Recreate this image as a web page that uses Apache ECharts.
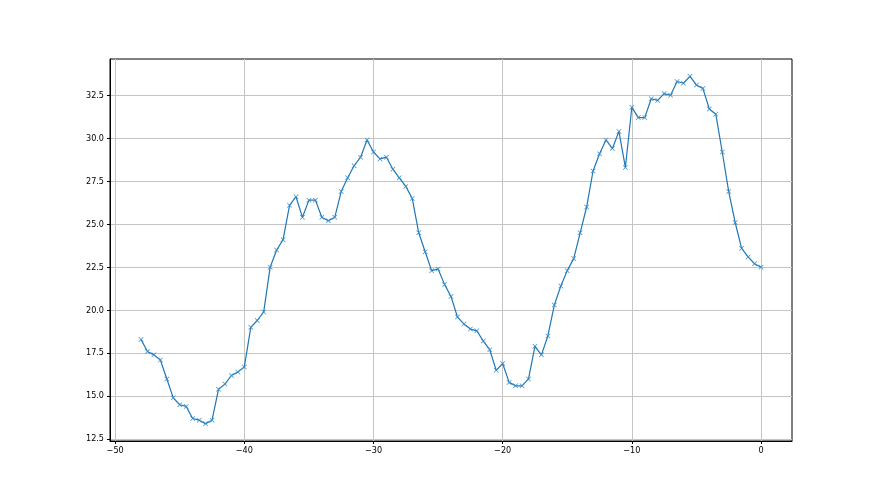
<!DOCTYPE html>
<html>
<head>
<meta charset="utf-8">
<script src="https://cdn.jsdelivr.net/npm/echarts@6/dist/echarts.min.js"></script>
<style>html,body{margin:0;padding:0;background:#fff;}#c{width:880px;height:495px;}</style>
</head>
<body>
<div id="c"></div>
<script>
const xValues = [-48,-47.5,-47,-46.5,-46,-45.5,-45,-44.5,-44,-43.5,-43,-42.5,-42,-41.5,-41,-40.5,-40,-39.5,-39,-38.5,-38,-37.5,-37,-36.5,-36,-35.5,-35,-34.5,-34,-33.5,-33,-32.5,-32,-31.5,-31,-30.5,-30,-29.5,-29,-28.5,-28,-27.5,-27,-26.5,-26,-25.5,-25,-24.5,-24,-23.5,-23,-22.5,-22,-21.5,-21,-20.5,-20,-19.5,-19,-18.5,-18,-17.5,-17,-16.5,-16,-15.5,-15,-14.5,-14,-13.5,-13,-12.5,-12,-11.5,-11,-10.5,-10,-9.5,-9,-8.5,-8,-7.5,-7,-6.5,-6,-5.5,-5,-4.5,-4,-3.5,-3,-2.5,-2,-1.5,-1,-0.5,0];
const yValues = [18.3,17.6,17.4,17.1,16.0,14.9,14.5,14.4,13.7,13.6,13.4,13.6,15.4,15.7,16.2,16.4,16.7,19.0,19.4,19.9,22.5,23.5,24.1,26.1,26.6,25.4,26.4,26.4,25.4,25.2,25.4,26.9,27.7,28.4,28.9,29.9,29.2,28.8,28.9,28.2,27.7,27.2,26.5,24.5,23.4,22.3,22.4,21.5,20.8,19.6,19.2,18.9,18.8,18.2,17.7,16.5,16.9,15.8,15.6,15.6,16.0,17.9,17.4,18.5,20.3,21.4,22.3,23.0,24.5,26.0,28.1,29.1,29.9,29.4,30.4,28.3,31.8,31.2,31.2,32.3,32.2,32.6,32.5,33.3,33.2,33.6,33.1,32.9,31.7,31.4,29.2,26.9,25.1,23.6,23.1,22.7,22.5];
const xTicks = [-50,-40,-30,-20,-10,0];
const yTicks = [12.5,15,17.5,20,22.5,25,27.5,30,32.5];

const chart = echarts.init(document.getElementById('c'), null, {renderer:'canvas'});
const labelFont = "'DejaVu Sans Condensed','Liberation Sans Narrow','DejaVu Sans',sans-serif";
const data = xValues.map((x,i)=>[x,yValues[i]]);
chart.setOption({
  animation:false,
  backgroundColor:'#fff',
  grid:{left:110,right:88,top:59,bottom:54,show:true,borderColor:'#000',borderWidth:1,backgroundColor:'transparent'},
  xAxis:{
    type:'value',min:-50.4,max:2.4,
    axisLine:{show:true,onZero:false,lineStyle:{color:'#000',width:1}},
    axisTick:{show:true,inside:false,length:3,customValues:xTicks,lineStyle:{color:'#000'}},
    axisLabel:{customValues:xTicks,margin:5,color:'#000',fontSize:9,fontFamily:labelFont,
      formatter:v=>v<0?'\u2212'+Math.abs(v):String(v)},
    splitLine:{show:true,lineStyle:{color:'#c4c4c4',width:1}}
  },
  yAxis:{
    type:'value',min:12.39,max:34.61,
    axisLine:{show:true,onZero:false,lineStyle:{color:'#000',width:1}},
    axisTick:{show:true,inside:false,length:3,customValues:yTicks,lineStyle:{color:'#000'}},
    axisLabel:{customValues:yTicks,margin:6,color:'#000',fontSize:9,fontFamily:labelFont,
      formatter:v=>v.toFixed(1)},
    splitLine:{show:true,lineStyle:{color:'#c4c4c4',width:1}}
  },
  series:[{
    type:'line',data:data,
    lineStyle:{color:'#1f77b4',width:1.2},
    symbol:'path://M0,1L1,0L5,4L9,0L10,1L6,5L10,9L9,10L5,6L1,10L0,9L4,5Z',
    symbolSize:5,showAllSymbol:true,
    itemStyle:{color:'#3a8cc8'}
  }]
});
</script>
</body>
</html>
